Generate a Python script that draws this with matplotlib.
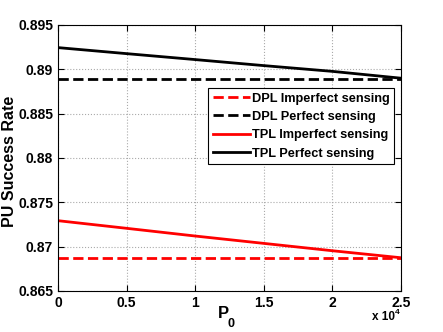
import numpy as np
import matplotlib.pyplot as plt

plt.rcParams['font.family'] = ['Liberation Sans', 'DejaVu Sans']
plt.rcParams['font.weight'] = 'bold'

# P0 en unites de 1e4
p0 = [0, 0.5, 1.0, 1.5, 2.0, 2.5]
dpl_imperfect = [0.86872, 0.86872, 0.86872, 0.86872, 0.86872, 0.86872]
dpl_perfect = [0.88892, 0.88892, 0.88892, 0.88892, 0.88892, 0.88892]
tpl_imperfect = [0.87293, 0.87207, 0.87120, 0.87037, 0.86954, 0.86875]
tpl_perfect = [0.89245, 0.89177, 0.89110, 0.89042, 0.88977, 0.88900]

fig = plt.figure(figsize=(4.43, 3.32), dpi=100, facecolor='w')
ax = fig.add_axes([58/443, 1-291/332, (401-58)/443, (291-25)/332])

ax.plot(p0, dpl_imperfect, 'r--', lw=2, label='DPL Imperfect sensing')
ax.plot(p0, dpl_perfect, 'k--', lw=2, label='DPL Perfect sensing')
ax.plot(p0, tpl_imperfect, 'r-', lw=2, label='TPL Imperfect sensing')
ax.plot(p0, tpl_perfect, 'k-', lw=2, label='TPL Perfect sensing')

ax.set_xlim(0, 2.5)
ax.set_ylim(0.865, 0.895)
ax.set_xticks([0, 0.5, 1, 1.5, 2, 2.5])
ax.set_xticklabels(['0', '0.5', '1', '1.5', '2', '2.5'])
ax.set_yticks([0.865, 0.87, 0.875, 0.88, 0.885, 0.89, 0.895])
ax.set_yticklabels(['0.865', '0.87', '0.875', '0.88', '0.885', '0.89', '0.895'])
ax.tick_params(labelsize=10, direction='in', length=4, top=True, right=True)
for lab in ax.get_xticklabels() + ax.get_yticklabels():
    lab.set_fontweight('bold')
ax.grid(True, linestyle=':', color='#aaaaaa', lw=0.8)

# labels
fig.text(218/443, 1-318/332, 'P', fontsize=12, fontweight='bold', ha='left', va='baseline')
fig.text(228/443, 1-327/332, '0', fontsize=9, fontweight='bold', ha='left', va='baseline')
fig.text(10/443, 1-161/332, 'PU Success Rate', fontsize=11.5, fontweight='bold',
         rotation=90, ha='center', va='center')
fig.text(372/443, 1-320/332, 'x 10', fontsize=8.5, fontweight='bold', ha='left', va='baseline')
fig.text(395/443, 1-314/332, '4', fontsize=6, fontweight='bold', ha='left', va='baseline')

leg = ax.legend(loc='upper right', bbox_to_anchor=(0.98, 0.763), fontsize=9.2,
                fancybox=False, edgecolor='k', framealpha=1,
                handlelength=2.9, handletextpad=0.15, borderpad=0.35, labelspacing=0.5,
                borderaxespad=0)
leg.get_frame().set_linewidth(0.8)
for t in leg.get_texts():
    t.set_fontweight('bold')

fig.savefig('out.png', dpi=100)
